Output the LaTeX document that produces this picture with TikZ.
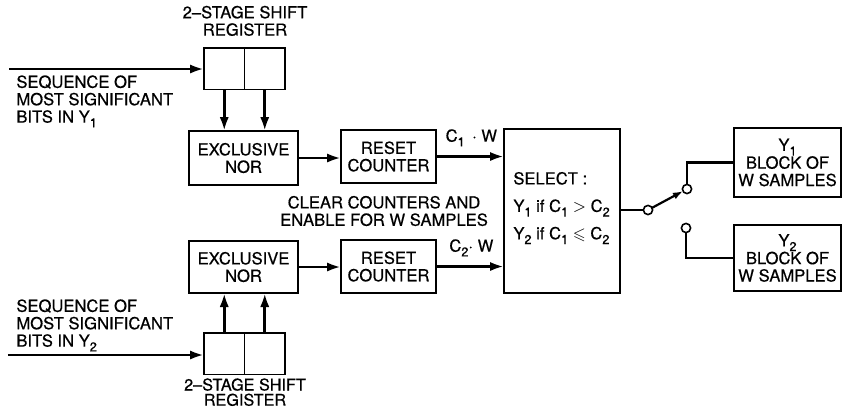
\documentclass[tikz,border=0pt]{standalone}
\usepackage{fontspec}
\setmainfont{TeX Gyre Heros}[FakeBold=0.5]
\usepackage{amsmath,amssymb}
\usetikzlibrary{positioning, calc, arrows.meta}
\newcommand{\lowsub}[1]{\raisebox{-0.55ex}{\fontsize{6.4}{6.4}\selectfont #1}}

\begin{document}
\begin{tikzpicture}[x=0.5pt, y=-0.5pt,
    every node/.style={font=\fontsize{8.3}{8.7}\selectfont},
    blk/.style={draw, line width=0.75pt, outer sep=0pt, minimum width=54.5pt, minimum height=27pt, align=center, inner sep=1pt},
    cell/.style={draw, line width=0.75pt, outer sep=0pt, minimum width=20.25pt, minimum height=20.75pt, inner sep=0pt},
    sig/.style={line width=1.4pt, -{Latex[length=7pt,width=4.6pt]}},
    wire/.style={line width=1.1pt},
    pin/.style={circle, draw, line width=0.8pt, fill=white, minimum size=4.6pt, inner sep=0pt, outer sep=0pt}]

    \useasboundingbox (0,0) rectangle (843,409);

    % Upper branch
    \node[cell] (sra) at (224.25,68.5) {};
    \node[cell, right=0pt of sra] (srb) {};
    \node[align=center, anchor=south] (srlbl) at (245,43) {2--STAGE SHIFT\\REGISTER};
    \node[blk] (xnora) at (243.5,158) {EXCLUSIVE\\NOR};
    \node[blk, minimum width=47.5pt, minimum height=26.5pt] (rca) at (388.5,156.5) {RESET\\COUNTER};
    \coordinate (ina) at (9,69);
    \node[align=left, anchor=north west, inner sep=0pt] (seqa) at (16,75)
        {SEQUENCE OF\\MOST SIGNIFICANT\\BITS IN Y\lowsub{1}};

    % Lower branch
    \node[cell] (src) at (224.25,353.5) {};
    \node[cell, right=0pt of src] (srd) {};
    \node[align=center, anchor=north, inner sep=0pt, font=\fontsize{8.1}{7.6}\selectfont] (srlblb) at (245,378) {2--STAGE SHIFT\\REGISTER};
    \node[blk, minimum height=26pt] (xnorb) at (243.5,267) {EXCLUSIVE\\NOR};
    \node[blk, minimum width=47.5pt, minimum height=26.5pt] (rcb) at (388.5,266.5) {RESET\\COUNTER};
    \coordinate (inb) at (8,355);
    \node[align=left, anchor=north west, inner sep=0pt] (seqb) at (16,299)
        {SEQUENCE OF\\MOST SIGNIFICANT\\BITS IN Y\lowsub{2}};

    % Clear / enable note
    \node[align=center] (clr) at (384,211) {CLEAR COUNTERS AND\\ENABLE FOR W SAMPLES};

    % Selector
    \node[blk, minimum width=58pt, minimum height=82pt] (sel) at (562,211) {};
    \node[align=left, anchor=west, inner sep=0pt] (seltxt) at (513,208)
        {SELECT :\\[5pt] Y\lowsub{1} if C\lowsub{1} $>$ C\lowsub{2}\\[5pt] Y\lowsub{2} if C\lowsub{1} $\leqslant$ C\lowsub{2}};

    % Output blocks
    \node[blk, minimum width=53.5pt, minimum height=34.5pt] (outa) at (787.5,162.5) {Y\lowsub{1}\\[0.2pt]BLOCK OF\\W SAMPLES};
    \node[blk, minimum width=53.5pt, minimum height=33pt] (outb) at (787.5,258) {Y\lowsub{2}\\[0.2pt]BLOCK OF\\W SAMPLES};

    % Switch
    \node[pin] (swc) at (648,210) {};
    \node[pin] (swa) at (687,189) {};
    \node[pin] (swb) at (686,228) {};

    % Connectors, upper
    \draw[sig] (ina) -- (sra.west |- ina);
    \draw[sig] (sra.south) -- (sra.south |- xnora.north);
    \draw[sig] (srb.south) -- (srb.south |- xnora.north);
    \draw[sig] (xnora.east) -- (rca.west |- xnora.east);
    \draw[sig] (rca.east) -- (rca.east -| sel.west) node[pos=0.52, above=1pt] {C\lowsub{1} \,· W};

    % Connectors, lower
    \draw[sig] (inb) -- (src.west |- inb);
    \draw[sig] (src.north) -- (src.north |- xnorb.south);
    \draw[sig] (srd.north) -- (srd.north |- xnorb.south);
    \draw[sig] (xnorb.east) -- (rcb.west |- xnorb.east);
    \draw[sig] (rcb.east) -- (rcb.east -| sel.west) node[pos=0.52, above=1pt] {C\lowsub{2}· W};

    % Switch wiring
    \draw[wire] (sel.east |- swc) -- (swc);
    \draw[wire, -{Latex[length=5pt,width=3.6pt]}] (swc) -- (swa);
    \draw[wire] (swa.north) -- (swa |- outa.west) -- (outa.west);
    \draw[wire] (swb.south) -- (swb |- outb.west) -- (outb.west);

\end{tikzpicture}
\end{document}
